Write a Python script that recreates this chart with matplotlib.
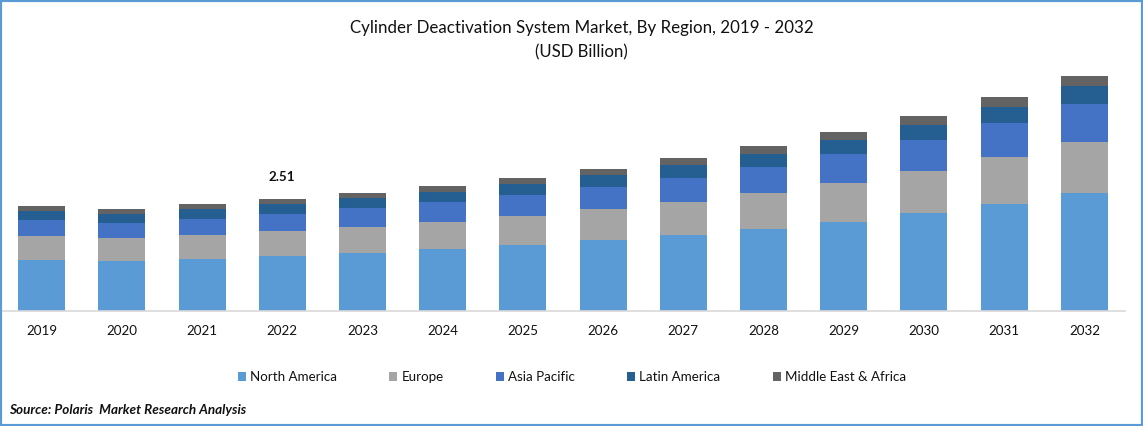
import matplotlib.pyplot as plt
from matplotlib.patches import Rectangle

plt.rcParams['font.family'] = ['Lato', 'DejaVu Sans']

years = ["2019", "2020", "2021", "2022", "2023", "2024", "2025", "2026", "2027", "2028", "2029", "2030", "2031", "2032"]
north_america = [1.143, 1.121, 1.165, 1.233, 1.300, 1.389, 1.479, 1.591, 1.703, 1.838, 1.994, 2.196, 2.398, 2.644]
europe = [0.538, 0.515, 0.538, 0.560, 0.583, 0.605, 0.650, 0.695, 0.740, 0.807, 0.874, 0.941, 1.053, 1.143]
asia_pacific = [0.359, 0.336, 0.359, 0.381, 0.426, 0.448, 0.471, 0.493, 0.538, 0.583, 0.650, 0.695, 0.762, 0.852]
latin_america = [0.202, 0.202, 0.217, 0.224, 0.224, 0.224, 0.247, 0.269, 0.291, 0.291, 0.314, 0.336, 0.359, 0.403]
mea = [0.112, 0.112, 0.119, 0.112, 0.112, 0.134, 0.134, 0.134, 0.157, 0.179, 0.179, 0.202, 0.224, 0.224]

series = [north_america, europe, asia_pacific, latin_america, mea]
names = ["North America", "Europe", "Asia Pacific", "Latin America", "Middle East & Africa"]
colors = ["#5B9BD5", "#A5A5A5", "#4472C4", "#255E91", "#636363"]

W, H = 1143, 426
fig = plt.figure(figsize=(W / 100, H / 100), dpi=100)
# axes placed in pixels: baseline at y=311
ax = fig.add_axes([1.5 / W, 1 - 311 / H, 1123 / W, 251 / H])

bottom = [0] * len(years)
for vals, name, col in zip(series, names, colors):
    ax.bar(years, vals, width=0.586, bottom=bottom, color=col, label=name)
    bottom = [b + v for b, v in zip(bottom, vals)]

ax.set_xlim(-0.5, 13.5)
ax.set_ylim(0, 251 * 2.51 / 112)
ax.set_yticks([])
for s in ["top", "left", "right"]:
    ax.spines[s].set_visible(False)
ax.spines["bottom"].set_color("#D9D9D9")
ax.spines["bottom"].set_linewidth(1.2)
ax.tick_params(axis="x", length=0, pad=10, labelsize=9.6, labelcolor="#111111")

ax.text(3, bottom[3] + 0.49, "2.51", ha="center", va="center", fontsize=9.6, fontweight="bold", color="#111111")

fig.text(582 / W, 1 - 28.5 / H, "Cylinder Deactivation System Market, By Region, 2019 - 2032", ha="center", va="center", fontsize=12.13, color="#111111")
fig.text(581.5 / W, 1 - 52 / H, "(USD Billion)", ha="center", va="center", fontsize=12.1, color="#111111")

fig.legend(loc="center", bbox_to_anchor=(572 / W, 1 - 377 / H), ncols=5, frameon=False, fontsize=9.6,
           handlelength=0.6, handleheight=0.6, handletextpad=0.33, columnspacing=3.9, labelcolor="#111111")

fig.text(9.5 / W, 1 - 410 / H, "Source: Polaris  Market Research Analysis", ha="left", va="center", fontsize=9.7,
         fontweight="bold", fontstyle="italic", color="#111111")

# blue frame around the picture
fig.add_artist(Rectangle((0, 0), 1, 1, transform=fig.transFigure, fill=False, edgecolor="#5B9BD5", linewidth=3))

fig.savefig("out.png", dpi=100)
